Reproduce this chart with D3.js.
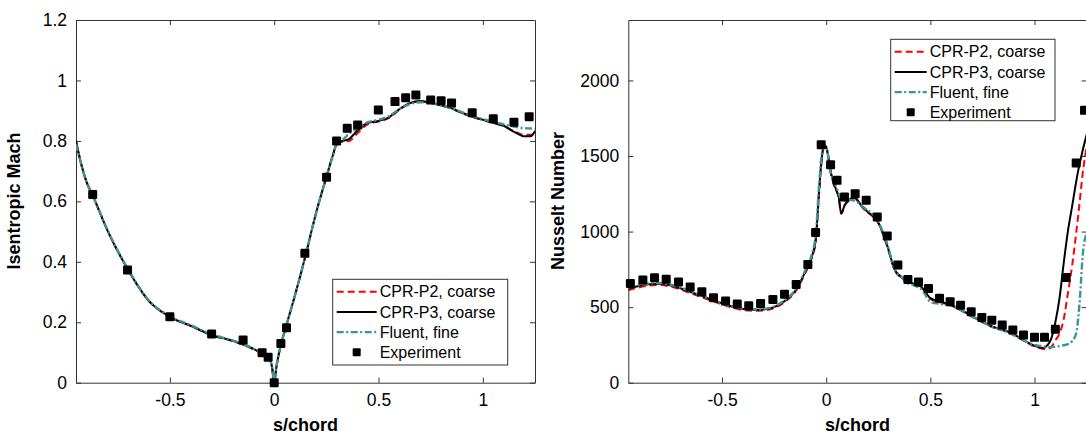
<!DOCTYPE html>
<html>
<head>
<meta charset="utf-8">
<script src="https://cdn.jsdelivr.net/npm/d3@7"></script>
<style>
body { margin: 0; background: #fff; }
text { font-family: "Liberation Sans", Arial, sans-serif; }
</style>
</head>
<body>
<div id="d3Chart"></div>
<script>
// ---- left panel data: isentropic Mach ----
var machS = [-0.95,-0.92,-0.9,-0.87,-0.8,-0.7,-0.6,-0.5,-0.4,-0.3,-0.2,-0.1,-0.05,-0.02,-0.01,0,0.01,0.03,0.05,0.1,0.15,0.2,0.25,0.28,0.3,0.33,0.36,0.4,0.45,0.5,0.55,0.6,0.65,0.7,0.75,0.8,0.85,0.9,0.95,1.0,1.05,1.1,1.15,1.2,1.23,1.25];
var machP2 = [0.80,0.71,0.665,0.62,0.505,0.373,0.27,0.218,0.188,0.157,0.138,0.111,0.091,0.074,0.05,0.0,0.05,0.12,0.17,0.29,0.42,0.56,0.68,0.75,0.79,0.798,0.80,0.826,0.856,0.864,0.876,0.903,0.924,0.931,0.925,0.917,0.907,0.892,0.879,0.869,0.859,0.849,0.832,0.82,0.82,0.83];
var machP3 = [0.80,0.71,0.665,0.62,0.505,0.373,0.27,0.218,0.188,0.158,0.139,0.112,0.092,0.075,0.05,0.0,0.05,0.12,0.17,0.29,0.42,0.56,0.68,0.75,0.79,0.80,0.807,0.835,0.86,0.866,0.878,0.905,0.925,0.932,0.926,0.918,0.908,0.893,0.88,0.87,0.86,0.85,0.83,0.815,0.815,0.833];
var machFluent = [0.79,0.71,0.665,0.62,0.507,0.375,0.272,0.22,0.19,0.16,0.14,0.113,0.093,0.076,0.05,0.0,0.05,0.12,0.17,0.29,0.42,0.56,0.68,0.75,0.79,0.805,0.825,0.842,0.862,0.87,0.882,0.905,0.922,0.928,0.925,0.918,0.909,0.895,0.882,0.872,0.863,0.855,0.847,0.842,0.841,0.84];
var machExpS = [-0.87,-0.703,-0.5,-0.3,-0.149,-0.058,-0.029,0,0.032,0.059,0.147,0.251,0.299,0.35,0.4,0.499,0.579,0.63,0.679,0.75,0.8,0.85,0.949,1.05,1.149,1.222];
var machExp = [0.623,0.373,0.218,0.161,0.141,0.099,0.084,0.0,0.13,0.182,0.428,0.68,0.80,0.842,0.853,0.902,0.93,0.943,0.952,0.935,0.933,0.925,0.893,0.873,0.862,0.88];

// ---- right panel data: Nusselt number ----
var nuS = [-0.95,-0.9,-0.85,-0.8,-0.75,-0.7,-0.65,-0.6,-0.5,-0.4,-0.35,-0.3,-0.25,-0.2,-0.15,-0.1,-0.07,-0.05,-0.035,-0.024,-0.01,0,0.01,0.02,0.036,0.05,0.06,0.072,0.09,0.11,0.136,0.17,0.2,0.224,0.25,0.29,0.33,0.36,0.39,0.43,0.46,0.5,0.55,0.6,0.65,0.7,0.75,0.8,0.85,0.9,0.95,1.0,1.04,1.06,1.08,1.1,1.12,1.14,1.16,1.18,1.2,1.21,1.22,1.23,1.25];
var nuP2 = [612,630,642,646,637,617,592,567,518,481,476,479,494,533,598,728,822,940,1240,1440,1565,1552,1492,1404,1315,1265,1225,1118,1175,1205,1220,1165,1125,1100,1055,915,740,695,665,645,625,555,530,510,476,436,400,366,346,316,277,240,225,220,235,280,326,420,590,770,990,1110,1240,1370,1560];
var nuP3 = [622,640,652,655,645,625,600,575,525,487,482,485,500,540,605,735,830,950,1250,1450,1575,1560,1500,1410,1320,1270,1230,1120,1180,1210,1225,1170,1130,1105,1060,920,745,700,670,650,630,560,535,515,480,440,405,370,350,320,280,245,230,245,290,400,560,790,1000,1163,1330,1405,1470,1530,1640];
var nuFluent = [630,646,657,660,650,630,604,578,525,490,485,488,505,545,612,745,845,980,1290,1480,1570,1562,1495,1400,1339,1290,1250,1215,1205,1210,1205,1170,1140,1115,1065,930,750,700,660,640,615,535,520,510,478,438,402,368,345,315,278,250,240,235,235,238,242,248,255,275,326,430,600,820,990];
var nuExpS = [-0.94,-0.88,-0.824,-0.768,-0.709,-0.653,-0.597,-0.541,-0.483,-0.427,-0.372,-0.315,-0.256,-0.2,-0.144,-0.088,-0.051,-0.024,0.021,0.052,0.088,0.139,0.192,0.245,0.293,0.344,0.392,0.443,0.491,0.544,0.595,0.645,0.696,0.747,0.795,0.845,0.896,0.947,1.0,1.048,1.1,1.152,1.2,1.24];
var nuExp = [657,679,694,685,667,634,601,562,540,520,509,524,551,586,650,782,994,1575,1443,1339,1229,1251,1207,1097,971,778,683,667,624,558,535,513,469,432,414,381,348,315,300,300,353,696,1454,1802];

// ---- ticks ----
var xTicks = [-0.5, 0, 0.5, 1];
var machTicks = [0, 0.2, 0.4, 0.6, 0.8, 1, 1.2];
var nuTicks = [0, 500, 1000, 1500, 2000];

var legendNames = ["CPR-P2, coarse", "CPR-P3, coarse", "Fluent, fine", "Experiment"];

var svg = d3.select("#d3Chart").append("svg")
.attr("width", 1086)
.attr("height", 436);

function drawPanel(cfg)
{
var x = d3.scaleLinear().domain([-0.95, 1.25]).range([cfg.left, cfg.right]);
var y = d3.scaleLinear().domain(cfg.yDomain).range([382.7, 20]);
var g = svg.append("g");

// clip so lines stay in the box
g.append("clipPath").attr("id", cfg.id + "clip")
.append("rect")
.attr("x", x.range()[0]).attr("y", 20)
.attr("width", x.range()[1] - x.range()[0]).attr("height", 362.7);

// axes, ticks pointing inward like matlab
g.append("g")
.attr("transform", "translate(0,382.7)")
.call(d3.axisBottom(x).tickValues(xTicks).tickSize(-5).tickSizeOuter(0).tickPadding(11)
.tickFormat(function(d) { return String(d); }));
g.append("g")
.attr("transform", "translate(0,20)")
.call(d3.axisTop(x).tickValues(xTicks).tickSize(-5).tickSizeOuter(0).tickFormat(""));
g.append("g")
.attr("transform", "translate(" + cfg.left + ",0)")
.call(d3.axisLeft(y).tickValues(cfg.yTicks).tickSize(-5).tickSizeOuter(0).tickPadding(9)
.tickFormat(function(d) { return String(d); }));
g.append("g")
.attr("transform", "translate(" + cfg.right + ",0)")
.call(d3.axisRight(y).tickValues(cfg.yTicks).tickSize(-5).tickSizeOuter(0).tickFormat(""));
g.selectAll(".domain, .tick line").attr("stroke", "#333").attr("stroke-width", 1);
g.selectAll(".tick text").attr("fill", "#000").style("font-size", "17.5px")
.style("font-family", "'Liberation Sans', Arial, sans-serif");

var line = d3.line()
.x(function(d) { return x(d[0]); })
.y(function(d) { return y(d[1]); })
.curve(d3.curveMonotoneX);

var series = [
{ vals: cfg.p2, color: "#ff0000", dash: "7,4", w: 2 },
{ vals: cfg.p3, color: "#000000", dash: null, w: 2 },
{ vals: cfg.fluent, color: "#3a9696", dash: "7,2.5,2,2.5", w: 2.4 }
];
series.forEach(function(s) {
g.append("path")
.datum(cfg.s.map(function(v, i) { return [v, s.vals[i]]; }))
.attr("clip-path", "url(#" + cfg.id + "clip)")
.attr("fill", "none")
.attr("stroke", s.color)
.attr("stroke-width", s.w)
.attr("stroke-dasharray", s.dash)
.attr("d", line);
});

// experiment markers
g.selectAll(".pt")
.data(cfg.expS.map(function(v, i) { return [v, cfg.exp[i]]; }))
.enter().append("rect")
.attr("class", "pt")
.attr("x", function(d) { return x(d[0]) - 4.5; })
.attr("y", function(d) { return y(d[1]) - 4.5; })
.attr("width", 9).attr("height", 9)
.attr("rx", 1.2)
.attr("fill", "#000");

// labels
g.append("text")
.attr("x", (cfg.left + cfg.right) / 2)
.attr("y", 431)
.style("text-anchor", "middle")
.style("font-size", "18px")
.style("font-weight", "bold")
.text("s/chord");
g.append("text")
.attr("transform", "translate(" + cfg.titleX + ",201) rotate(-90)")
.style("text-anchor", "middle")
.style("font-size", "18px")
.style("font-weight", "bold")
.text(cfg.yTitle);

// legend
var L = cfg.legend;
var lg = g.append("g");
lg.append("rect")
.attr("x", L.x).attr("y", L.y)
.attr("width", L.w).attr("height", L.h)
.attr("fill", "#fff").attr("stroke", "#333").attr("stroke-width", 1);
legendNames.forEach(function(name, i) {
var cy = L.y + 12.4 + i * 20.2;
if (i < 3) {
lg.append("line")
.attr("x1", L.x + 4).attr("x2", L.x + 4 + L.sample)
.attr("y1", cy).attr("y2", cy)
.attr("stroke", series[i].color)
.attr("stroke-width", series[i].w)
.attr("stroke-dasharray", series[i].dash);
} else {
lg.append("rect")
.attr("x", L.x + 4 + L.sample / 2 - 4).attr("y", cy - 4)
.attr("width", 8).attr("height", 8).attr("rx", 1)
.attr("fill", "#000");
}
lg.append("text")
.attr("x", L.x + L.sample + 7)
.attr("y", cy)
.attr("dy", "0.36em")
.style("font-size", "16px")
.text(name);
});
}

drawPanel({
id: "mach", left: 76, right: 535,
yDomain: [0, 1.2], yTicks: machTicks,
s: machS, p2: machP2, p3: machP3, fluent: machFluent,
expS: machExpS, exp: machExp,
yTitle: "Isentropic Mach", titleX: 20,
legend: { x: 332.7, y: 279.3, w: 175, h: 85.7, sample: 40 }
});

drawPanel({
id: "nu", left: 628.3, right: 1086.6,
yDomain: [0, 2400], yTicks: nuTicks,
s: nuS, p2: nuP2, p3: nuP3, fluent: nuFluent,
expS: nuExpS, exp: nuExp,
yTitle: "Nusselt Number", titleX: 564,
legend: { x: 890.7, y: 39.3, w: 164.3, h: 81.4, sample: 32 }
});
</script>
</body>
</html>
